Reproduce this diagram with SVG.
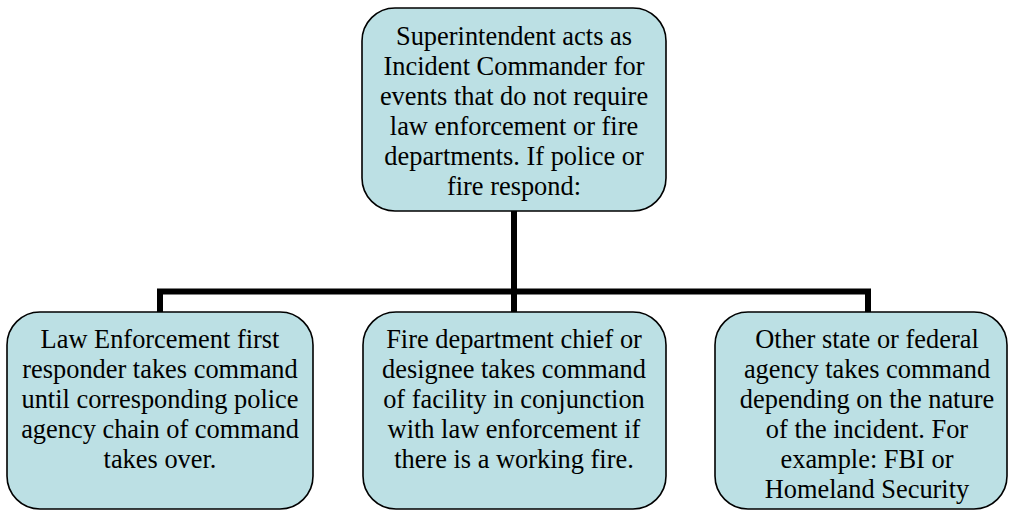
<svg xmlns="http://www.w3.org/2000/svg" width="1009" height="510" viewBox="0 0 1009 510">
<style>
.box{fill:#BCE0E4;stroke:#000;stroke-width:1.6}
.t{font-family:'Liberation Serif','Times New Roman',Times,serif;font-size:26.4px;fill:#000;text-anchor:middle}
.c{fill:none;stroke:#000;stroke-width:6;stroke-linecap:butt;stroke-linejoin:miter}
</style>
<rect width="1009" height="510" fill="#fff"/>
<g id="connectors">
<path class="c" d="M514 211 V312"/>
<path class="c" d="M160 312 V291.5 H868 V312"/>
</g>
<g id="top">
<rect class="box" x="362" y="8" width="304" height="203" rx="33" ry="33"/>
<text class="t" x="514" y="45">Superintendent acts as</text>
<text class="t" x="514" y="75">Incident Commander for</text>
<text class="t" x="514" y="105">events that do not require</text>
<text class="t" x="514" y="135">law enforcement or fire</text>
<text class="t" x="514" y="165">departments. If police or</text>
<text class="t" x="514" y="195">fire respond:</text>
</g>
<g id="left">
<rect class="box" x="7" y="312" width="306" height="197" rx="33" ry="33"/>
<text class="t" x="160" y="348">Law Enforcement first</text>
<text class="t" x="160" y="378">responder takes command</text>
<text class="t" x="160" y="408">until corresponding police</text>
<text class="t" x="160" y="438">agency chain of command</text>
<text class="t" x="160" y="468">takes over.</text>
</g>
<g id="middle">
<rect class="box" x="363" y="312" width="303" height="197" rx="33" ry="33"/>
<text class="t" x="514" y="348">Fire department chief or</text>
<text class="t" x="514" y="378">designee takes command</text>
<text class="t" x="514" y="408">of facility in conjunction</text>
<text class="t" x="514" y="438">with law enforcement if</text>
<text class="t" x="514" y="468">there is a working fire.</text>
</g>
<g id="right">
<rect class="box" x="715" y="312" width="292" height="197" rx="33" ry="33"/>
<text class="t" x="867" y="348">Other state or federal</text>
<text class="t" x="867" y="378">agency takes command</text>
<text class="t" x="867" y="408">depending on the nature</text>
<text class="t" x="867" y="438">of the incident. For</text>
<text class="t" x="867" y="468">example: FBI or</text>
<text class="t" x="867" y="498">Homeland Security</text>
</g>
</svg>
